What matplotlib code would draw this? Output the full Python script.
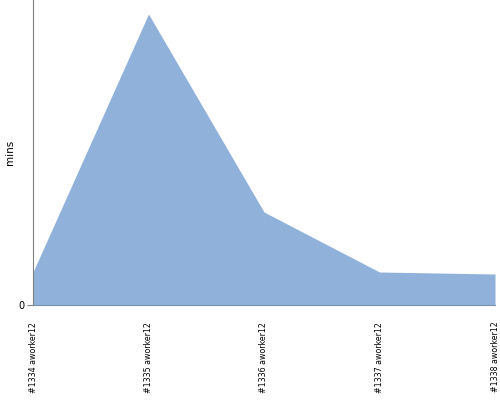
import matplotlib
matplotlib.use("Agg")
import matplotlib.pyplot as plt

labels = ["#1334 aworker12", "#1335 aworker12", "#1336 aworker12", "#1337 aworker12", "#1338 aworker12"]
values = [3.3, 29.1, 9.3, 3.3, 3.1]

fig = plt.figure(figsize=(5, 4), dpi=100)
ax = fig.add_axes([0.066, 0.2375, 0.924, 0.7625])
x = list(range(len(labels)))
ax.fill_between(x, values, 0, color="#90b2da", linewidth=0)
ax.set_xlim(0, len(labels) - 1)
ax.set_ylim(0, 30.5)
ax.set_yticks([0])
ax.set_yticklabels(["0"], fontsize=7)
ax.set_xticks(x)
ax.set_xticklabels(labels, rotation=90, fontsize=5.7, va="top", ha="center")
ax.tick_params(axis="x", length=0, pad=12)
ax.tick_params(axis="y", length=4, color="#808080", pad=2)
fig.text(0.021, 0.62, "mins", rotation=90, fontsize=7.5, ha="center", va="center")
for s in ["top", "right"]:
    ax.spines[s].set_visible(False)
ax.spines["left"].set_color("#808080")
ax.spines["bottom"].set_color("#7a90b0")
fig.savefig("out.png", dpi=100)
